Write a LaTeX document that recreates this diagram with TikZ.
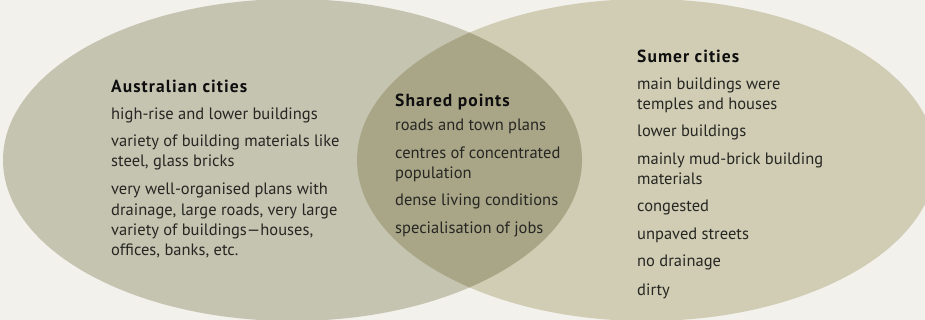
\documentclass[tikz,border=0pt]{standalone}
\usepackage{fontspec}
\setmainfont{PT Sans}
\usetikzlibrary{shapes.geometric}

\definecolor{paper}{HTML}{F3F1EC}
\definecolor{ausfill}{HTML}{C5C4B1}
\definecolor{sumfill}{HTML}{D0CDB4}
\definecolor{lensfill}{HTML}{A9A688}
\definecolor{bodyink}{HTML}{262622}
\definecolor{headink}{HTML}{0E0E0E}

\tikzset{
  blob/.style={ellipse, inner sep=0pt, outer sep=0pt,
    minimum width=579pt, minimum height=322pt},
  body/.style={anchor=base west, inner sep=0pt, text=bodyink,
    font=\fontsize{16.5}{18}\selectfont},
  head/.style={anchor=base west, inner sep=0pt, text=headink,
    font=\fontsize{17.5}{18}\selectfont\bfseries\addfontfeatures{LetterSpace=6}},
}

\begin{document}
\begin{tikzpicture}[x=1pt, y=-1pt]
  % canvas
  \fill[paper] (0,0) rectangle (925,320);
  \useasboundingbox (0,0) rectangle (925,320);

  % the two sets
  \node[blob, fill=ausfill] (aus) at (292.5,160) {};
  \node[blob, fill=sumfill] (sum) at (646.5,160) {};

  % overlap of the two sets
  \begin{scope}
    \clip (292.5,160) ellipse [x radius=289.5pt, y radius=161pt];
    \fill[lensfill] (646.5,160) ellipse [x radius=289.5pt, y radius=161pt];
  \end{scope}

  % Australian cities
  \node[head] (ah) at (111,92.7) {Australian cities};
  \node[body] (a1) at (111,120) {high-rise and lower buildings};
  \node[body] (a2) at (111,146.7) {variety of building materials like};
  \node[body] (a3) at (111,166.7) {steel, glass bricks};
  \node[body] (a4) at (111,195) {very well-organised plans with};
  \node[body] (a5) at (111,215) {drainage, large roads, very large};
  \node[body] (a6) at (111,235) {variety of buildings—houses,};
  \node[body] (a7) at (111,255) {offices, banks, etc.};

  % Shared points
  \node[head] (sh) at (395,106.7) {Shared points};
  \node[body] (s1) at (395,130.7) {roads and town plans};
  \node[body] (s2) at (395,159) {centres of concentrated};
  \node[body] (s3) at (395,179) {population};
  \node[body] (s4) at (395,205.7) {dense living conditions};
  \node[body] (s5) at (395,233.3) {specialisation of jobs};

  % Sumer cities
  \node[head] (mh) at (637,62.7) {Sumer cities};
  \node[body] (m1) at (637,90) {main buildings were};
  \node[body] (m2) at (637,110) {temples and houses};
  \node[body] (m3) at (637,136.7) {lower buildings};
  \node[body] (m4) at (637,165) {mainly mud-brick building};
  \node[body] (m5) at (637,185) {materials};
  \node[body] (m6) at (637,211.7) {congested};
  \node[body] (m7) at (637,240) {unpaved streets};
  \node[body] (m8) at (637,266.7) {no drainage};
  \node[body] (m9) at (637,295) {dirty};
\end{tikzpicture}
\end{document}
